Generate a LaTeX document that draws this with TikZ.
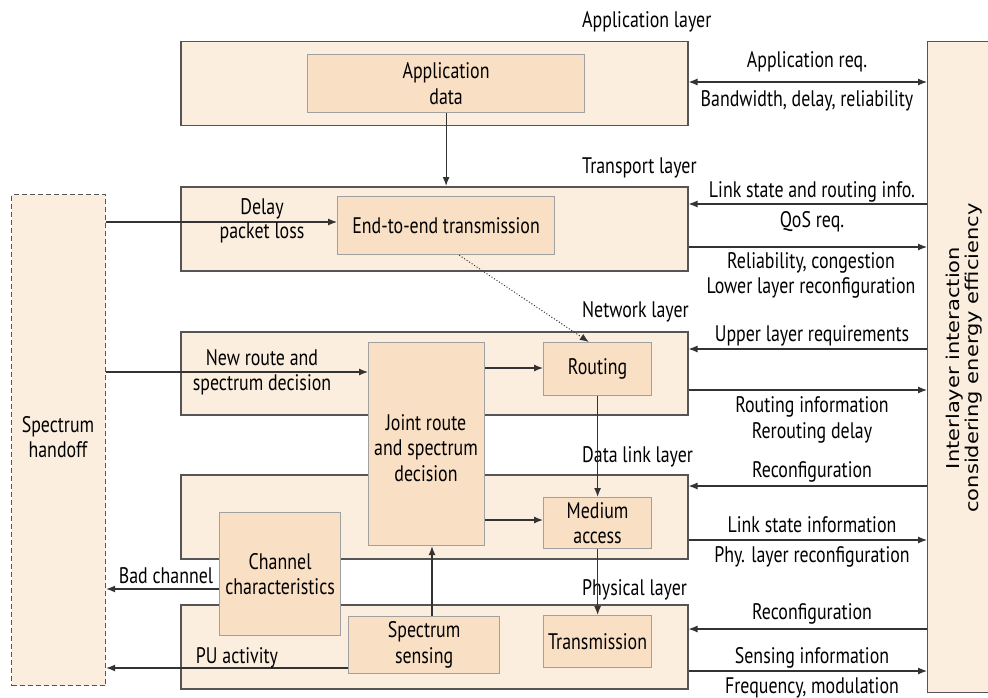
\documentclass[tikz,border=0pt]{standalone}
\usepackage{fontspec}
\usepackage{graphicx}
\setmainfont[FakeStretch=0.795]{PT Sans}
\newfontfamily\rotfont{DejaVu Sans}
\usetikzlibrary{arrows.meta,calc}
\definecolor{layerfill}{HTML}{FCEEDF}
\definecolor{boxfill}{HTML}{F9DFC4}
\definecolor{layerline}{HTML}{555555}
\definecolor{boxline}{HTML}{A0A0A0}
\definecolor{arrline}{HTML}{333333}
\begin{document}
\begin{tikzpicture}[x=1pt,y=-1pt,
  every node/.style={font=\fontsize{22.5}{25.5}\selectfont, align=center, inner sep=0pt, text=black},
  layerbox/.style={draw=layerline, fill=layerfill, line width=1.5pt, anchor=north west},
  innerbox/.style={draw=boxline, fill=boxfill, line width=1.2pt, anchor=north west},
  handbox/.style={draw=layerline, fill=layerfill, line width=1.2pt, dash pattern=on 5pt off 3pt, anchor=north west},
  arr/.style={draw=arrline, line width=1.2pt, -{Latex[length=9pt,width=7pt]}},
  darr/.style={draw=arrline, line width=1.2pt, {Latex[length=9pt,width=7pt]}-{Latex[length=9pt,width=7pt]}},
  dotarr/.style={draw=arrline, line width=1pt, dotted, -{Latex[length=9pt,width=7pt]}},
  title/.style={anchor=base west},
  lbl/.style={anchor=base}
]
\useasboundingbox[fill=white] (0,0) rectangle (988,698);

% layer boxes
\node[layerbox, minimum width=507pt, minimum height=84pt] (app) at (180,41) {};
\node[layerbox, minimum width=507pt, minimum height=84pt] (trans) at (180,186) {};
\node[layerbox, minimum width=507pt, minimum height=83pt] (net) at (180,331) {};
\node[layerbox, minimum width=507pt, minimum height=84pt] (dl) at (180,474) {};
\node[layerbox, minimum width=507pt, minimum height=84pt] (phy) at (180,604) {};
\node[layerbox, line width=1.2pt, minimum width=70pt, minimum height=651pt] (inter) at (927,41) {};
\node[handbox, minimum width=94pt, minimum height=491pt] (handoff) at (11,194) {};
\node (handtext) at (58,437) {Spectrum\\handoff};
\node[rotate=90, font=\rotfont\fontsize{21}{23}\selectfont] (intertext) at (965,358)
  {\scalebox{1}[0.84]{\begin{tabular}{@{}c@{}}Interlayer interaction\\considering energy efficiency\end{tabular}}};

% inner boxes
\node[innerbox, minimum width=277pt, minimum height=58pt] (appdata) at (307,54) {};
\node at (appdata.center) {Application\\data};
\node[innerbox, minimum width=217pt, minimum height=58pt] (e2e) at (337,196) {};
\node at (e2e.center) {End-to-end transmission};
\node[innerbox, minimum width=116pt, minimum height=203pt] (joint) at (368,342) {};
\node at (426,448) {Joint route\\and spectrum\\decision};
\node[innerbox, minimum width=108pt, minimum height=53pt] (routing) at (543,342) {};
\node at (routing.center) {Routing};
\node[innerbox, minimum width=108pt, minimum height=51pt] (medium) at (543,497) {};
\node at (medium.center) {Medium\\access};
\node[innerbox, minimum width=108pt, minimum height=52pt] (transm) at (543,615) {};
\node at (transm.center) {Transmission};
\node[innerbox, minimum width=121pt, minimum height=123pt] (chan) at (219,512) {};
\node at (chan.center) {Channel\\characteristics};
\node[innerbox, minimum width=151pt, minimum height=57pt] (sens) at (348,616) {};
\node at (sens.center) {Spectrum\\sensing};

% layer titles
\node[title] at (582,28) {Application layer};
\node[title] at (582,173) {Transport layer};
\node[title] at (582,317) {Network layer};
\node[title] at (582,462) {Data link layer};
\node[title] at (582,595) {Physical layer};

% internal arrows
\draw[arr] (appdata.south) -- (trans.north -| appdata.south);
\draw[arr] (handoff.east |- 0,222) -- (e2e.west |- 0,222);
\draw[arr] (handoff.east |- 0,372) -- (joint.west |- 0,372);
\draw[arr] (joint.east |- 0,368) -- (routing.west |- 0,368);
\draw[arr] (joint.east |- 0,520) -- (medium.west |- 0,520);
\draw[arr] (routing.south) -- (medium.north);
\draw[arr] (medium.south) -- (transm.north);
\draw[arr] (sens.north -| 432,0) -- (joint.south -| 432,0);
\draw[arr] (chan.west |- 0,589) -- (handoff.east |- 0,589);
\draw[arr] (sens.west |- 0,668) -- (handoff.east |- 0,668);
\draw[dotarr] ($(e2e.south west)!0.56!(e2e.south east)$) -- ($(routing.north west)!0.42!(routing.north east)$);

% left labels
\node[lbl] at (262,214) {Delay};
\node[lbl] at (262,238) {packet loss};
\node[lbl] at (262,365) {New route and};
\node[lbl] at (262,390) {spectrum decision};
\node[lbl] at (166,583) {Bad channel};
\node[lbl] at (237,663) {PU activity};

% right arrows
\draw[darr] (app.east |- 0,82) -- (inter.west |- 0,82);
\draw[arr] (inter.west |- 0,204) -- (trans.east |- 0,204);
\draw[arr] (trans.east |- 0,247) -- (inter.west |- 0,247);
\draw[arr] (inter.west |- 0,349) -- (net.east |- 0,349);
\draw[arr] (net.east |- 0,390) -- (inter.west |- 0,390);
\draw[arr] (inter.west |- 0,486) -- (dl.east |- 0,486);
\draw[arr] (dl.east |- 0,540) -- (inter.west |- 0,540);
\draw[arr] (inter.west |- 0,629) -- (phy.east |- 0,629);
\draw[arr] (phy.east |- 0,671) -- (inter.west |- 0,671);

% right labels
\node[lbl] at (807,68) {Application req.};
\node[lbl] at (807,107) {Bandwidth, delay, reliability};
\node[lbl] at (812,197) {Link state and routing info.};
\node[lbl] at (812,227) {QoS req.};
\node[lbl] at (811,268) {Reliability, congestion};
\node[lbl] at (811,293) {Lower layer reconfiguration};
\node[lbl] at (812,341) {Upper layer requirements};
\node[lbl] at (812,412) {Routing information};
\node[lbl] at (812,438) {Rerouting delay};
\node[lbl] at (812,477) {Reconfiguration};
\node[lbl] at (812,532) {Link state information};
\node[lbl] at (812,562) {Phy. layer reconfiguration};
\node[lbl] at (812,619) {Reconfiguration};
\node[lbl] at (812,663) {Sensing information};
\node[lbl] at (812,693) {Frequency, modulation};
\end{tikzpicture}
\end{document}
